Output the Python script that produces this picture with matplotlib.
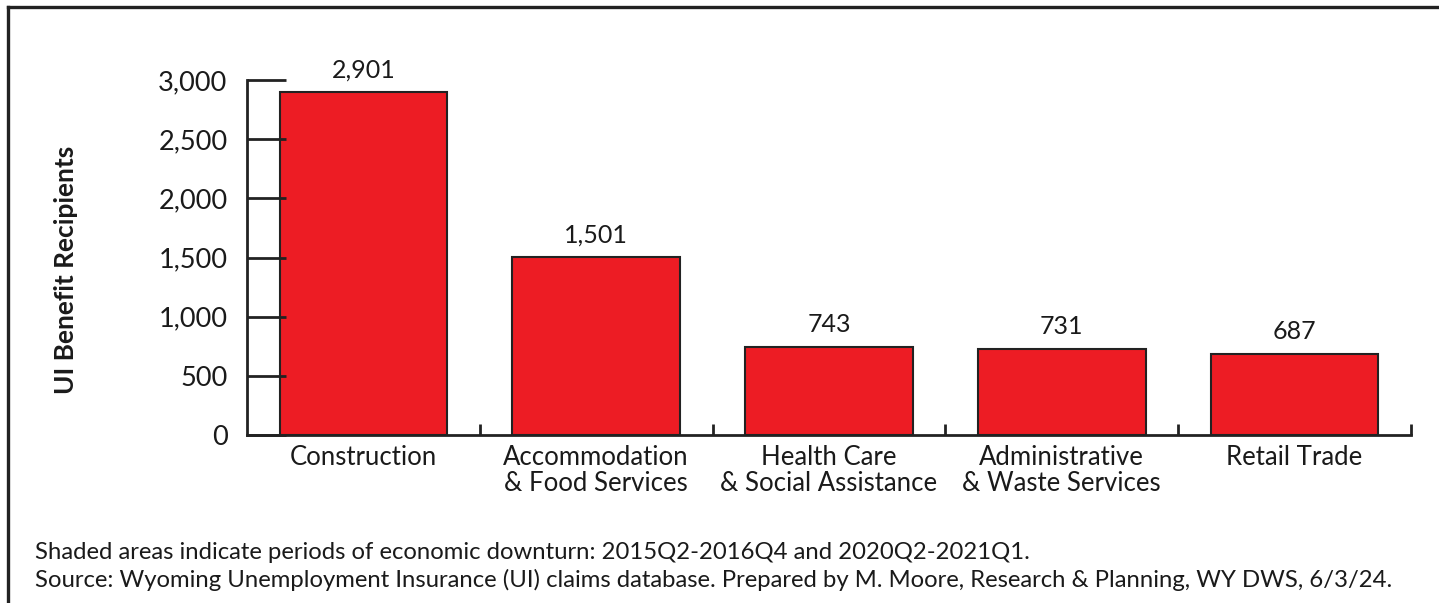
import matplotlib.pyplot as plt
from matplotlib.lines import Line2D
from matplotlib.ticker import FuncFormatter, FixedLocator

categories = ['Construction', 'Accommodation\n& Food Services', 'Health Care\n& Social Assistance',
              'Administrative\n& Waste Services', 'Retail Trade']
recipients = [2901, 1501, 743, 731, 687]
yticks = [0, 500, 1000, 1500, 2000, 2500, 3000]

plt.rcParams['font.family'] = ['Lato', 'DejaVu Sans']
ink = '#1a1a1a'

fig = plt.figure(figsize=(14.39, 6.03), dpi=100)
ax = fig.add_axes([0.1716, 0.2786, 0.8089, 0.5887])

x = list(range(len(categories)))
ax.bar(x, recipients, width=0.72, color='#ED1C24', edgecolor='#222222', linewidth=1.5)
for xi, v in zip(x, recipients):
    ax.text(xi, v + 90, f'{v:,}', ha='center', va='bottom', fontsize=18, color=ink)

ax.set_xlim(-0.5, len(categories) - 0.5)
ax.set_ylim(0, 3000)
ax.set_yticks(yticks)
ax.yaxis.set_major_formatter(FuncFormatter(lambda v, p: f'{int(v):,}'))
ax.tick_params(axis='y', direction='in', length=28, width=2, labelsize=19.5, pad=14,
               color='#222222', labelcolor=ink)

ax.set_xticks(x)
ax.set_xticklabels(categories, fontsize=18.5, color=ink, linespacing=1.05)
ax.tick_params(axis='x', length=0, pad=7)
ax.xaxis.set_minor_locator(FixedLocator([i + 0.5 for i in x]))
ax.tick_params(axis='x', which='minor', direction='in', length=8, width=2, color='#222222')

for side in ['top', 'right']:
    ax.spines[side].set_visible(False)
for side in ['left', 'bottom']:
    ax.spines[side].set_linewidth(2)
    ax.spines[side].set_color('#222222')

ax.set_ylabel('UI Benefit Recipients', fontsize=19, fontweight='bold', color=ink)
ax.yaxis.set_label_coords(-0.145, 0.465)

fig.text(0.024, 0.083, 'Shaded areas indicate periods of economic downturn: 2015Q2-2016Q4 and 2020Q2-2021Q1.',
         fontsize=17.2, color=ink, va='center')
fig.text(0.024, 0.038, 'Source: Wyoming Unemployment Insurance (UI) claims database. Prepared by M. Moore, '
         'Research & Planning, WY DWS, 6/3/24.', fontsize=17.2, color=ink, va='center')

# frame lines at top and left
fig.add_artist(Line2D([0.0056, 1.0], [0.989, 0.989], transform=fig.transFigure, color='#222222', linewidth=2.4))
fig.add_artist(Line2D([0.0056, 0.0056], [0.0, 0.989], transform=fig.transFigure, color='#222222', linewidth=2.4))

fig.savefig('out.png', dpi=100)
